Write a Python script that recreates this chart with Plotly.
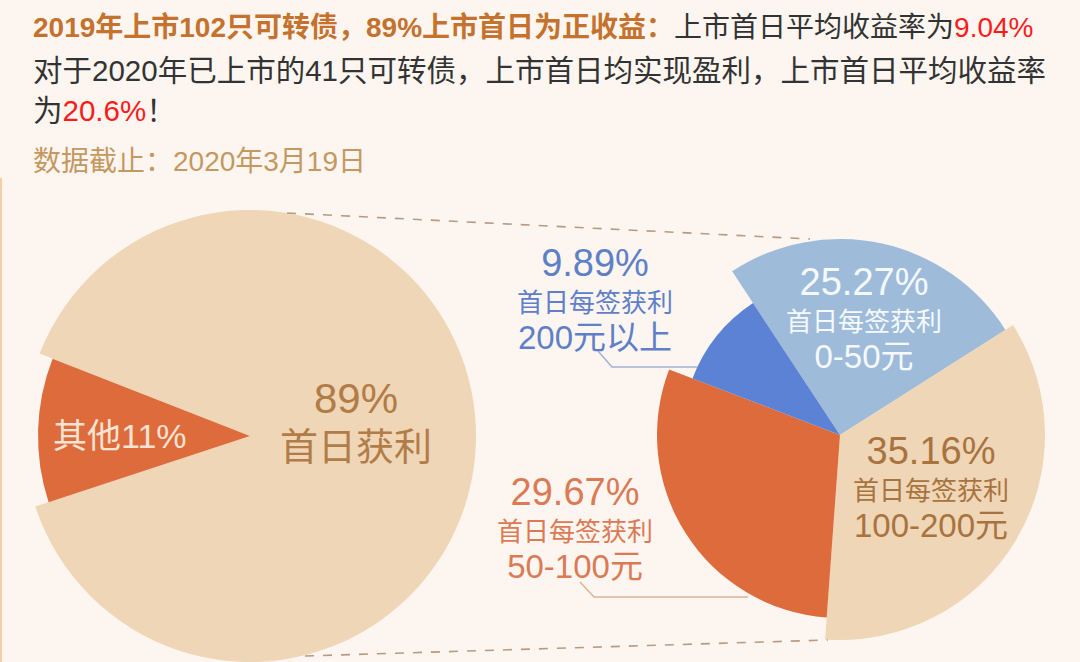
import plotly.graph_objects as go

W, H = 1080, 662
BG = "#fdf6f0"
FONT = "Liberation Sans, Noto Sans CJK SC"

# ---------------- data ----------------
left_labels = ["首日获利", "其他"]
left_values = [89, 11]

right_labels = ["0-50元", "100-200元", "50-100元", "200元以上"]
right_values = [25.27, 35.16, 29.67, 9.89]
right_pct_text = ["25.27%", "35.16%", "29.67%", "9.89%"]
sub_label = "首日每签获利"

title_bold = "2019年上市102只可转债，89%上市首日为正收益："
title_rest = "上市首日平均收益率为"
title_val1 = "9.04%"
line2 = "对于2020年已上市的41只可转债，上市首日均实现盈利，上市首日平均收益率"
line3_a = "为"
line3_val = "20.6%"
line3_b = "！"
date_note = "数据截止：2020年3月19日"

# ---------------- style ----------------
left_colors = ["#eed6b6", "#de6b3b"]
left_radius = [226, 212]          # per-slice radius (px)
left_center = (250, 436)
left_rotation = 291.4

right_colors = ["#9ebcda", "#eed6b6", "#de6b3b", "#5b82d4"]
right_radius = [196, 205, 183, 158]
right_center = (840, 435)
right_rotation = -33.4

TRANSPARENT = "rgba(0,0,0,0)"


def dom(cx, cy, r):
    return dict(x=[(cx - r) / W, (cx + r) / W],
                y=[max(0, 1 - (cy + r) / H), min(1, 1 - (cy - r) / H)])


def px(x):
    return x / W


def py(y):
    return 1 - y / H


fig = go.Figure()

# left pie: one trace per slice so each slice can have its own radius
for i, col in enumerate(left_colors):
    cols = [TRANSPARENT] * len(left_values)
    cols[i] = col
    fig.add_trace(go.Pie(
        labels=left_labels, values=left_values, sort=False,
        direction="clockwise", rotation=left_rotation,
        marker=dict(colors=cols, line=dict(width=0)),
        textinfo="none", hoverinfo="skip", showlegend=False,
        domain=dom(left_center[0], left_center[1], left_radius[i]),
    ))

# right pie
for i, col in enumerate(right_colors):
    cols = [TRANSPARENT] * len(right_values)
    cols[i] = col
    fig.add_trace(go.Pie(
        labels=right_labels, values=right_values, sort=False,
        direction="clockwise", rotation=right_rotation,
        marker=dict(colors=cols, line=dict(width=0)),
        textinfo="none", hoverinfo="skip", showlegend=False,
        domain=dom(right_center[0], right_center[1], right_radius[i]),
    ))

ann = []


def text(x, y, s, size, color, anchor="center"):
    ann.append(dict(x=px(x), y=py(y), xref="paper", yref="paper", text=s,
                    showarrow=False, xanchor=anchor, yanchor="middle",
                    font=dict(family=FONT, size=size, color=color)))


def block(x, y, lines, sizes, color, base):
    s = "<br>".join(f"<span style='font-size:{sz}px'>{ln}</span>"
                    for ln, sz in zip(lines, sizes))
    text(x, y, s, base, color)


# header text
text(31, 27, f"<b><span style='color:#c4722d'>{title_bold}</span></b>{title_rest}"
     f"<span style='color:#ff1a1a'>{title_val1}</span>", 28, "#333333", "left")
text(31, 70, line2, 29.5, "#333333", "left")
text(31, 110, f"{line3_a}<span style='color:#ff1a1a'>{line3_val}</span>{line3_b}",
     29.5, "#333333", "left")
text(31, 162, date_note, 28, "#c4985f", "left")

# left pie labels
block(356, 421, [f"{left_values[0]}%", left_labels[0]], [42, 38], "#b27c47", 36)
text(120, 436, f"{left_labels[1]}{left_values[1]}%", 34, "#f7e3d3")

# right pie labels (percent / sub label / range)
SZ = [38, 26, 33]
block(864, 318, [right_pct_text[0], sub_label, right_labels[0]], SZ, "#f6f9fc", 28)
block(931, 487, [right_pct_text[1], sub_label, right_labels[1]], SZ, "#a8733f", 28)
block(575, 528, [right_pct_text[2], sub_label, right_labels[2]], SZ, "#dc7a55", 28)
block(595, 299, [right_pct_text[3], sub_label, right_labels[3]], SZ, "#5f80c8", 28)

shapes = []
# dashed connectors between the two pies (from pie geometry)
lcx, lcy = left_center
rcx, rcy = right_center
shapes.append(dict(type="line", xref="paper", yref="paper",
                   x0=px(lcx + 37), y0=py(lcy - left_radius[0] + 3),
                   x1=px(rcx - 30), y1=py(rcy - right_radius[0]),
                   line=dict(color="#b89a80", width=1.6, dash="dash")))
shapes.append(dict(type="line", xref="paper", yref="paper",
                   x0=px(lcx + 55), y0=py(lcy + left_radius[0] - 6),
                   x1=px(rcx - 12), y1=py(rcy + right_radius[1]),
                   line=dict(color="#b89a80", width=1.6, dash="dash")))
# leader lines
shapes.append(dict(type="path", xref="paper", yref="paper",
                   path=f"M {px(598)},{py(351)} L {px(612)},{py(367)} L {px(697)},{py(367)}",
                   line=dict(color="#9fb2d8", width=1.5)))
shapes.append(dict(type="path", xref="paper", yref="paper",
                   path=f"M {px(580)},{py(582)} L {px(594)},{py(597)} L {px(748)},{py(597)}",
                   line=dict(color="#dcb497", width=1.5)))
# thin left border
shapes.append(dict(type="line", xref="paper", yref="paper",
                   x0=px(1), y0=py(178), x1=px(1), y1=0,
                   line=dict(color="#f6cda4", width=2)))

fig.update_layout(
    width=W, height=H,
    margin=dict(l=0, r=0, t=0, b=0),
    paper_bgcolor=BG, plot_bgcolor=BG,
    annotations=ann, shapes=shapes,
    showlegend=False,
)

fig.write_html("out.html", config={"displayModeBar": False},
               post_script="document.body.style.margin='0';")
